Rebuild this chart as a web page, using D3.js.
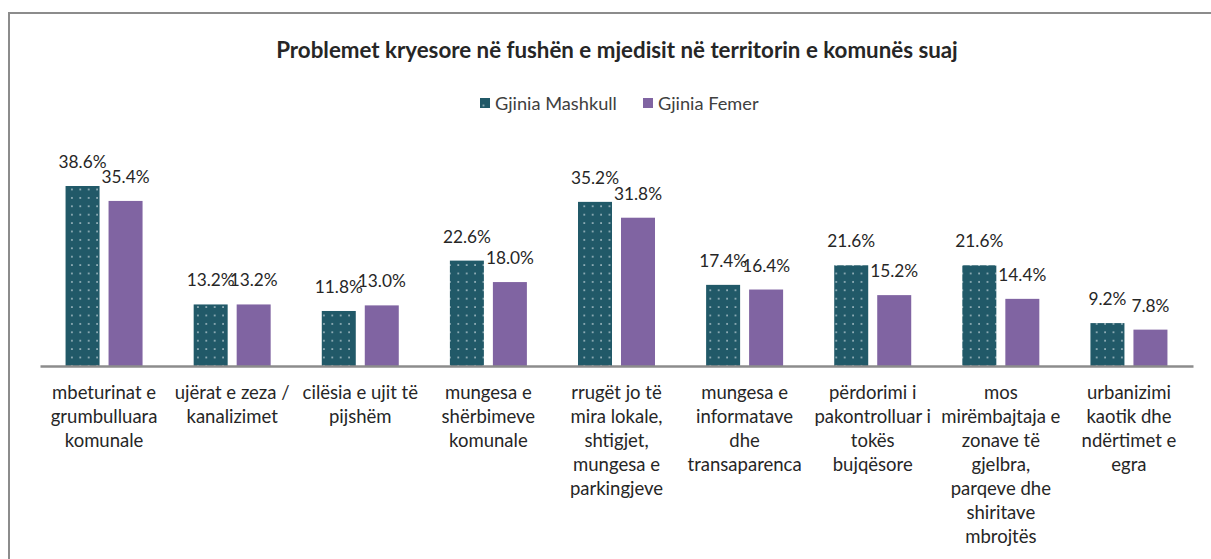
<!DOCTYPE html>
<html><head><meta charset="utf-8">
<script src="https://cdn.jsdelivr.net/npm/d3@7"></script>
<style>
html,body{margin:0;padding:0;background:#fff;}
svg{display:block;font-family:Lato, "Noto Sans", sans-serif;}
</style></head>
<body>
<script>
const title = "Problemet kryesore në fushën e mjedisit në territorin e komunës suaj";
const seriesNames = ["Gjinia Mashkull", "Gjinia Femer"];
const categories = [
  ["mbeturinat e", "grumbulluara", "komunale"],
  ["ujërat e zeza /", "kanalizimet"],
  ["cilësia e ujit të", "pijshëm"],
  ["mungesa e", "shërbimeve", "komunale"],
  ["rrugët jo të", "mira lokale,", "shtigjet,", "mungesa e", "parkingjeve"],
  ["mungesa e", "informatave", "dhe", "transaparenca"],
  ["përdorimi i", "pakontrolluar i", "tokës", "bujqësore"],
  ["mos", "mirëmbajtaja e", "zonave të", "gjelbra,", "parqeve dhe", "shiritave", "mbrojtës"],
  ["urbanizimi", "kaotik dhe", "ndërtimet e", "egra"]
];
const male = [38.6, 13.2, 11.8, 22.6, 35.2, 17.4, 21.6, 21.6, 9.2];
const female = [35.4, 13.2, 13.0, 18.0, 31.8, 16.4, 15.2, 14.4, 7.8];

const W = 1211, H = 559;
const svg = d3.select("body").append("svg").attr("width", W).attr("height", H);

// font size fitting helper (match reference text widths)
function fit(str, weight, target) {
  const t = svg.append("text").attr("font-size", 100).attr("font-weight", weight).text(str);
  const w = t.node().getComputedTextLength();
  t.remove();
  return 100 * target / w;
}
const titleSize = fit(title, "bold", 682);
const legendSize = fit("Gjinia Mashkull", "normal", 122);
const valueSize = fit("38.6%", "normal", 48);
const labelSize = (fit("mbeturinat e", "normal", 104) + fit("grumbulluara", "normal", 107) + fit("transaparenca", "normal", 114)) / 3;

const defs = svg.append("defs");
const pat = defs.append("pattern").attr("id", "dots").attr("patternUnits", "userSpaceOnUse")
  .attr("width", 8.4).attr("height", 8.4);
pat.append("rect").attr("width", 8.4).attr("height", 8.4).attr("fill", "#215968");
pat.append("rect").attr("x", 4).attr("y", 4).attr("width", 1.4).attr("height", 1.4).attr("fill", "#d9e4e8");

const colors = ["url(#dots)", "#8064A2"];

// frame
svg.append("path").attr("d", `M9,${H} L9,13 L${W},13`).attr("fill", "none")
  .attr("stroke", "#8c8c8c").attr("stroke-width", 2);

// title
svg.append("text").attr("x", 617).attr("y", 58).attr("text-anchor", "middle")
  .attr("font-size", titleSize).attr("font-weight", "bold").attr("fill", "#262626").text(title);

// legend
const legend = svg.append("g");
const legX = [480, 643];
seriesNames.forEach((s, i) => {
  legend.append("rect").attr("x", legX[i]).attr("y", 98).attr("width", 10).attr("height", 10).attr("fill", colors[i]);
  legend.append("text").attr("x", legX[i] + 15).attr("y", 110).attr("font-size", legendSize).attr("fill", "#404040").text(s);
});

const x0 = d3.scaleBand().domain(d3.range(categories.length)).range([40, 1193]).paddingInner(0).paddingOuter(0);
const barW = 34, gap = 9;
const y = d3.scaleLinear().domain([0, 45]).range([366, 366 - 45 * 4.663]);

const data = [male, female];
data.forEach((vals, si) => {
  const g = svg.append("g");
  const xPos = i => x0(i) + x0.bandwidth() / 2 + (si === 0 ? -(barW + gap / 2) : gap / 2);
  g.selectAll("rect").data(vals).join("rect")
    .attr("x", (d, i) => xPos(i))
    .attr("y", d => y(d))
    .attr("width", barW)
    .attr("height", d => y(0) - y(d))
    .attr("fill", colors[si]);
  g.selectAll("text").data(vals).join("text")
    .attr("x", (d, i) => xPos(i) + barW / 2)
    .attr("y", d => y(d) - 18)
    .attr("text-anchor", "middle")
    .attr("font-size", valueSize).attr("fill", "#262626")
    .text(d => d.toFixed(1) + "%");
});

// axis
const axis = d3.axisBottom(x0).tickSize(0).tickFormat("");
const ax = svg.append("g").attr("transform", "translate(0,366)").call(axis);
ax.select(".domain").attr("stroke", "#8c8c8c").attr("stroke-width", 2.5);

// category labels
const labG = svg.append("g");
categories.forEach((lines, i) => {
  const cx = x0(i) + x0.bandwidth() / 2;
  const t = labG.append("text").attr("x", cx).attr("y", 399)
    .attr("text-anchor", "middle").attr("font-size", labelSize).attr("fill", "#262626");
  lines.forEach((l, j) => {
    t.append("tspan").attr("x", cx).attr("y", 399 + j * 24).text(l);
  });
});
</script>
</body></html>
